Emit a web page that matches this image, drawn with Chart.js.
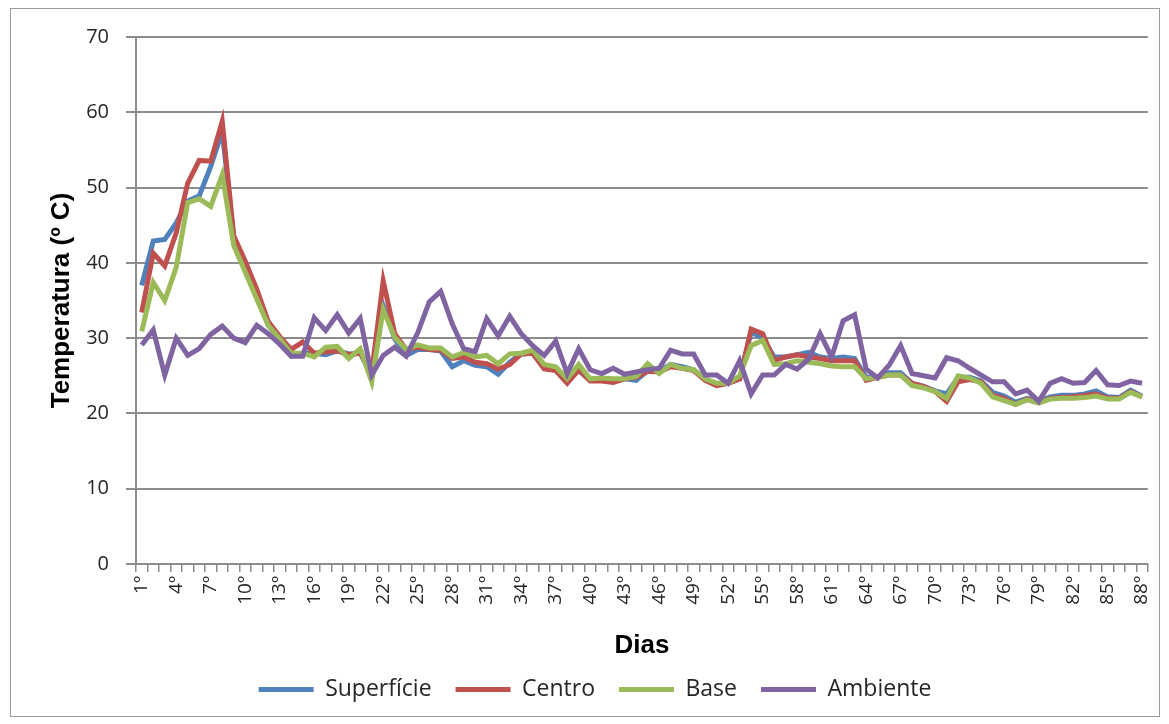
<!DOCTYPE html>
<html lang="pt">
<head>
    <meta charset="UTF-8">
    <title>Temperatura</title>
    <script src="https://cdn.jsdelivr.net/npm/chart.js"></script>
    <style>
        body {
            margin: 0;
            padding: 0;
            background: #fff;
        }

        .wrap {
            position: relative;
            width: 1169px;
            height: 724px;
        }

        .frame {
            position: absolute;
            left: 10px;
            top: 8px;
            width: 1148px;
            height: 707px;
            border: 1px solid #9a9a9a;
            pointer-events: none;
        }
    </style>
</head>
<body>
    <div class="wrap">
        <canvas id="grafico"></canvas>
        <div class="frame"></div>
    </div>

    <script>
        // dias 1º .. 88º
        const dias = Array.from({ length: 88 }, (_, i) => (i + 1) + 'º');

        const superficie = [
            37.0, 42.9, 43.1, 45.3, 48.2, 48.9, 52.8, 57.5, 43.3, 40.0,
            36.0, 31.7, 29.9, 27.6, 28.0, 28.0, 27.8, 28.3, 27.9, 28.0,
            25.0, 34.3, 29.9, 27.7, 28.5, 28.5, 28.3, 26.2, 27.0, 26.4,
            26.2, 25.2, 26.8, 27.9, 28.0, 26.0, 25.8, 24.4, 25.7, 24.4,
            24.4, 24.3, 24.6, 24.4, 25.7, 25.6, 26.5, 26.2, 25.8, 24.5,
            23.9, 24.0, 24.6, 30.8, 30.0, 27.5, 27.5, 27.8, 28.1, 27.5,
            27.3, 27.5, 27.3, 24.8, 24.8, 25.4, 25.4, 24.0, 23.6, 23.0,
            22.6, 24.8, 24.8, 24.3, 22.8, 22.3, 21.5, 22.0, 21.6, 22.2,
            22.4, 22.4, 22.6, 23.0, 22.2, 22.1, 23.1, 22.3
        ];

        const centro = [
            33.4, 41.3, 39.6, 44.0, 50.6, 53.6, 53.5, 58.8, 43.6, 40.2,
            36.5, 32.2, 30.2, 28.5, 29.5, 28.0, 28.2, 28.3, 27.8, 28.0,
            25.5, 37.6, 30.6, 28.5, 28.8, 28.5, 28.4, 27.3, 27.5, 26.8,
            26.6, 25.9, 26.5, 27.9, 28.0, 25.9, 25.7, 24.0, 25.8, 24.3,
            24.3, 24.1, 24.6, 24.8, 25.6, 25.5, 26.2, 26.0, 25.7, 24.4,
            23.7, 24.0, 24.6, 31.2, 30.6, 27.0, 27.5, 27.8, 27.5, 27.3,
            27.0, 27.0, 27.0, 24.4, 24.8, 25.1, 25.1, 24.0, 23.6, 22.9,
            21.6, 24.2, 24.5, 24.2, 22.4, 22.0, 21.2, 21.9, 21.4, 22.0,
            22.1, 22.2, 22.4, 22.6, 22.0, 22.0, 22.9, 22.2
        ];

        const base = [
            30.9, 37.4, 35.0, 39.4, 48.0, 48.5, 47.5, 51.7, 42.3, 38.8,
            35.2, 31.7, 29.9, 28.0, 28.0, 27.5, 28.8, 28.9, 27.3, 28.6,
            24.2, 33.8, 30.1, 28.5, 29.1, 28.7, 28.7, 27.5, 28.1, 27.5,
            27.7, 26.6, 27.9, 28.0, 28.4, 26.5, 26.2, 24.6, 26.5, 24.6,
            24.7, 24.6, 24.6, 24.9, 26.6, 25.3, 26.5, 26.0, 25.8, 24.6,
            24.0, 24.0, 25.0, 29.0, 29.7, 26.5, 26.6, 27.0, 26.8, 26.6,
            26.3, 26.2, 26.2, 24.6, 24.8, 25.1, 25.1, 23.7, 23.4, 22.9,
            22.0, 25.0, 24.7, 24.0, 22.2, 21.7, 21.2, 21.8, 21.4, 21.9,
            22.0, 22.0, 22.1, 22.3, 21.9, 21.9, 22.8, 22.2
        ];

        const ambiente = [
            29.1, 31.1, 25.1, 30.0, 27.7, 28.6, 30.5, 31.6, 30.0, 29.4,
            31.7, 30.6, 29.2, 27.6, 27.6, 32.7, 31.0, 33.1, 30.7, 32.6,
            25.1, 27.7, 28.8, 27.6, 30.7, 34.8, 36.2, 31.9, 28.6, 28.2,
            32.6, 30.3, 32.9, 30.6, 29.0, 27.7, 29.6, 25.3, 28.6, 25.8,
            25.3, 26.0, 25.2, 25.5, 25.8, 26.0, 28.4, 27.9, 27.9, 25.1,
            25.1, 24.0, 27.0, 22.6, 25.1, 25.1, 26.5, 25.9, 27.2, 30.6,
            27.5, 32.3, 33.1, 25.9, 24.7, 26.4, 29.0, 25.3, 25.0, 24.7,
            27.4, 27.0, 26.0, 25.1, 24.2, 24.2, 22.6, 23.1, 21.6, 24.0,
            24.6, 24.0, 24.1, 25.7, 23.8, 23.7, 24.3, 24.0
        ];

        const yTicks = [0, 10, 20, 30, 40, 50, 60, 70];

        const cinza = '#8c8c8c';
        const fonte = "'Open Sans', 'Noto Sans', sans-serif";
        const fonteTitulo = "'Liberation Sans', Arial, sans-serif";

        function serie(label, data, cor, ordem) {
            return {
                label: label,
                data: data,
                borderColor: cor,
                backgroundColor: cor,
                borderWidth: 5,
                pointRadius: 0,
                tension: 0,
                order: ordem
            };
        }

        const ctx = document.getElementById('grafico').getContext('2d');

        new Chart(ctx, {
            type: 'line',
            data: {
                labels: dias,
                datasets: [
                    serie('Superfície', superficie, '#4f81bd', 4),
                    serie('Centro', centro, '#c0504d', 3),
                    serie('Base', base, '#9bbb59', 2),
                    serie('Ambiente', ambiente, '#8064a2', 1)
                ]
            },
            options: {
                responsive: true,
                maintainAspectRatio: false,
                animation: false,
                layout: {
                    padding: { left: 40, top: 37, right: 19, bottom: 13 }
                },
                plugins: {
                    tooltip: { enabled: false },
                    legend: {
                        position: 'bottom',
                        labels: {
                            boxWidth: 55,
                            boxHeight: 5,
                            padding: 24,
                            color: '#262626',
                            font: { family: fonte, size: 23 },
                            sort: (a, b) => a.datasetIndex - b.datasetIndex,
                            generateLabels: (chart) => {
                                const itens = Chart.defaults.plugins.legend.labels.generateLabels(chart);
                                itens.forEach(it => { it.lineWidth = 0; });
                                return itens;
                            }
                        }
                    }
                },
                scales: {
                    x: {
                        offset: true,
                        grid: {
                            offset: true,
                            drawOnChartArea: false,
                            color: cinza,
                            lineWidth: 1.5,
                            tickLength: 8
                        },
                        border: { color: cinza, width: 2 },
                        ticks: {
                            autoSkip: false,
                            minRotation: 90,
                            maxRotation: 90,
                            padding: 4,
                            color: '#262626',
                            font: { family: fonte, size: 19 },
                            callback: function (val, i) {
                                return i % 3 === 0 ? dias[i] : '';
                            }
                        },
                        title: {
                            display: true,
                            text: 'Dias',
                            color: '#000',
                            padding: { top: -7, bottom: -7 },
                            font: { family: fonteTitulo, size: 26, weight: 'bold' }
                        },
                        afterFit: (scale) => { scale.height = 90; }
                    },
                    y: {
                        min: 0,
                        max: 70,
                        afterBuildTicks: (scale) => {
                            scale.ticks = yTicks.map(v => ({ value: v }));
                        },
                        grid: {
                            color: cinza,
                            lineWidth: 2,
                            tickLength: 10
                        },
                        border: { color: cinza, width: 2 },
                        ticks: {
                            padding: 17,
                            color: '#262626',
                            font: { family: fonte, size: 20 }
                        },
                        title: {
                            display: true,
                            text: 'Temperatura (º C)',
                            color: '#000',
                            padding: { top: 6, bottom: 6 },
                            font: { family: fonteTitulo, size: 26, weight: 'bold' }
                        },
                        afterFit: (scale) => { scale.width = 96; }
                    }
                }
            }
        });
    </script>
</body>
</html>
